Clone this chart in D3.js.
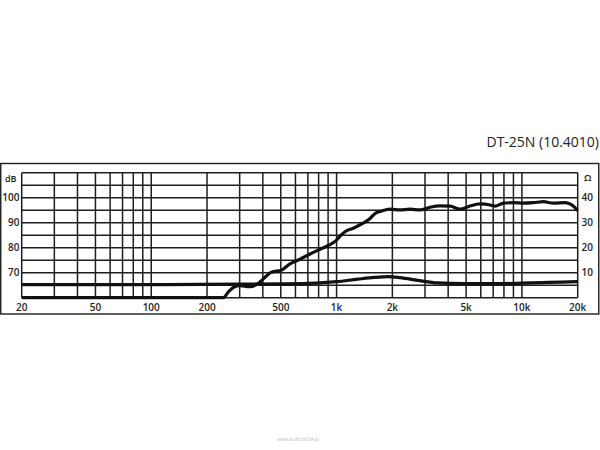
<!DOCTYPE html>
<html><head><meta charset="utf-8">
<script src="https://cdn.jsdelivr.net/npm/d3@7"></script>
<style>html,body{margin:0;padding:0;background:#fff}svg{display:block}</style>
</head><body>
<script>
const splFreq = [20,245,262,280,300,340,365,390,420,440,470,500,560,635,720,815,920,1000,1044,1111,1232,1368,1516,1613,1753,1943,2200,2492,2822,3195,3618,4097,4639,5252,5947,6734,7166,7943,8996,10186,11535,13062,14791,17108,18590,20000];
const splDb   = [60,60,62.5,64.3,64.8,64.4,65,66.6,68.8,70,70.6,70.9,73.5,75.4,77.5,79.4,81.2,83,84.6,86.4,87.8,89.5,91.7,93.7,94.7,95.4,95.1,95.4,95.1,96.2,96.7,96.6,95.4,96.7,97.5,97.1,96.6,97.8,98,97.8,98,98.4,97.8,98,97.1,94.8];
const impFreq = [20,100,300,500,700,1000,1300,1600,1900,2200,2800,3500,5000,7000,10000,14000,20000];
const impOhm  = [5.2,5.2,5.4,5.5,5.7,6.4,7.4,8.1,8.4,8.0,6.8,5.9,5.6,5.6,5.8,6.1,6.4];
const xGrid = [20,30,40,50,60,70,80,90,100,200,300,400,500,600,700,800,900,1000,2000,3000,4000,5000,6000,7000,8000,9000,10000,20000];
const xTickVals = [20,50,100,200,500,1000,2000,5000,10000,20000];
const xTickLabels = ["20","50","100","200","500","1k","2k","5k","10k","20k"];
const yGrid = [60,65,70,75,80,85,90,95,100,105,110];
const yTickVals = [70,80,90,100];
const ohmTickVals = [10,20,30,40];
const title = "DT-25N (10.4010)";

const W = 600, H = 450;
const svg = d3.select("body").append("svg").attr("width", W).attr("height", H);
const x = d3.scaleLog().domain([20, 20000]).range([21.7, 577.7]);
const y = d3.scaleLinear().domain([60, 110]).range([297.7, 172.7]);
const yOhm = d3.scaleLinear().domain([0, 50]).range([297.7, 172.7]);
const font = "'Open Sans', 'DejaVu Sans', sans-serif";
const ink = "#1e1e1e";

svg.append("rect").attr("x", 0.75).attr("y", 163.5).attr("width", 598).attr("height", 150.5)
  .attr("fill", "none").attr("stroke", ink).attr("stroke-width", 1.4);

const g = svg.append("g");
g.selectAll(".hg").data(yGrid).join("line")
  .attr("x1", x(20)).attr("x2", x(20000)).attr("y1", d => y(d)).attr("y2", d => y(d))
  .attr("stroke", ink).attr("stroke-width", 1.5);
g.selectAll(".vg").data(xGrid).join("line")
  .attr("x1", d => x(d)).attr("x2", d => x(d)).attr("y1", y(60)).attr("y2", y(110))
  .attr("stroke", ink).attr("stroke-width", 1.5);

const line = d3.line().curve(d3.curveMonotoneX);
svg.append("path").attr("d", line(impFreq.map((f, i) => [x(f), yOhm(impOhm[i])])))
  .attr("fill", "none").attr("stroke", "#111").attr("stroke-width", 3.2).attr("stroke-linejoin", "round");
svg.append("path").attr("d", line(splFreq.map((f, i) => [x(f), y(splDb[i])])))
  .attr("fill", "none").attr("stroke", "#111").attr("stroke-width", 3.2).attr("stroke-linejoin", "round");

const txt = (sel) => sel.attr("font-family", font).attr("font-size", 10).attr("font-weight", 600).attr("fill", ink);
svg.selectAll(".xl").data(xTickVals).join("text").call(txt)
  .attr("x", d => x(d)).attr("y", 310.5).attr("text-anchor", "middle")
  .text((d, i) => xTickLabels[i]);
svg.selectAll(".yl").data(yTickVals).join("text").call(txt)
  .attr("x", 19.5).attr("y", d => y(d) + 3.6).attr("text-anchor", "end").text(d => d);
svg.append("text").call(txt).attr("x", 16.5).attr("y", 181.5).attr("text-anchor", "end").attr("font-size", 9).text("dB");
svg.selectAll(".ol").data(ohmTickVals).join("text").call(txt)
  .attr("x", 581.5).attr("y", d => yOhm(d) + 3.6).attr("text-anchor", "start").text(d => d);
svg.append("text").call(txt).attr("x", 584).attr("y", 180.5).attr("font-size", 9.5).text("Ω");

svg.append("text").attr("font-family", font).attr("font-size", 14).attr("fill", "#222")
  .attr("x", 599).attr("y", 146.5).attr("text-anchor", "end").text(title);

svg.append("text").attr("font-family", font).attr("font-size", 4.5).attr("fill", "#bbb")
  .attr("x", 298).attr("y", 440.5).attr("text-anchor", "middle").text("www.audio.hifi24.pl");
</script>
</body></html>
